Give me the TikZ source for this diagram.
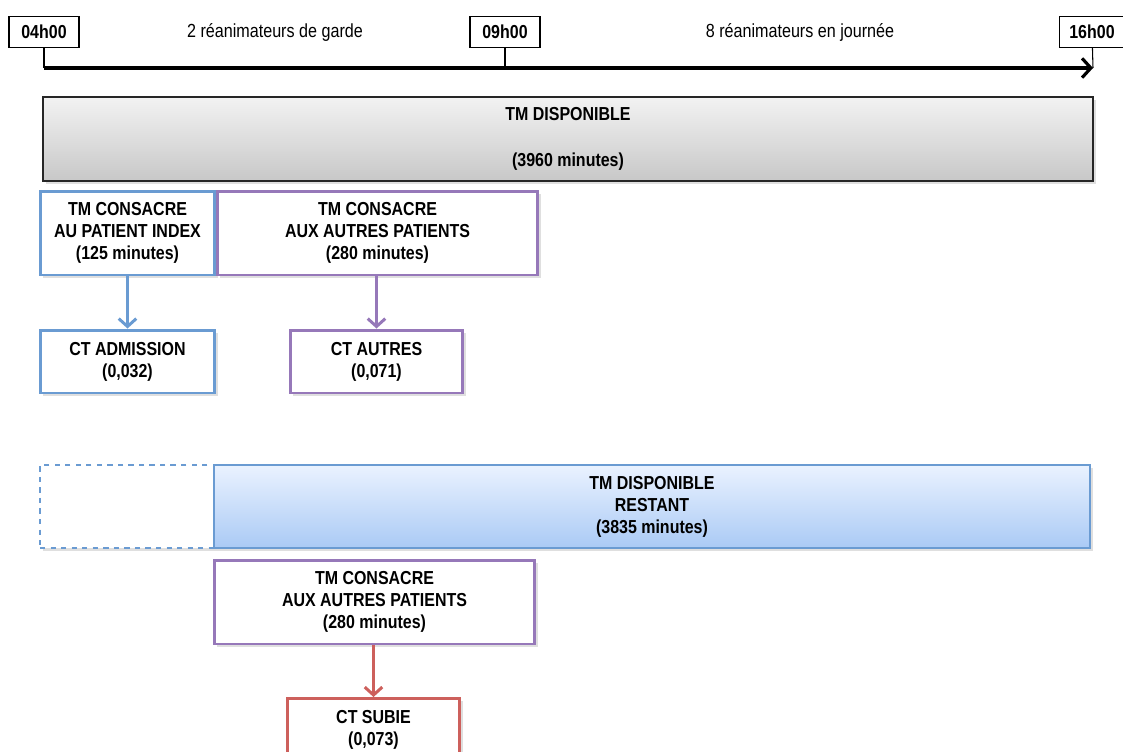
\documentclass[tikz,border=0pt]{standalone}
\usepackage{fontspec}
\setmainfont{Liberation Sans}[FakeStretch=0.85]
\usetikzlibrary{arrows.meta}
\usetikzlibrary{positioning}
\usetikzlibrary{shadows}
\definecolor{cblue}{RGB}{106,155,210}
\definecolor{cpurple}{RGB}{150,120,185}
\definecolor{cred}{RGB}{205,96,92}
\definecolor{cgraytop}{RGB}{242,242,242}
\definecolor{cgraybot}{RGB}{200,200,200}
\definecolor{cbluetop}{RGB}{234,242,255}
\definecolor{cbluebot}{RGB}{170,202,245}

\begin{document}
\begin{tikzpicture}[x=0.02cm, y=-0.02cm,
  hour/.style={draw, line width=0.8pt, fill=white, font=\fontsize{10.7}{12.5}\selectfont\bfseries,
    minimum width=1.4cm, minimum height=0.62cm, inner sep=0pt},
  span/.style={font=\fontsize{10.8}{12.5}\selectfont},
  box/.style={draw, line width=1.7pt, fill=white, align=center, inner sep=0pt,
    font=\fontsize{10.7}{12.5}\selectfont\bfseries,
    drop shadow={shadow xshift=1.5pt, shadow yshift=-1.5pt, opacity=0.25}},
  link/.style={line width=1.7pt, -{Straight Barb[length=4.5pt,width=10pt,line width=1.7pt]}}]
\useasboundingbox (0,0) rectangle (1123,751);

% time line
\node[hour] (t04) at (44,32) {04h00};
\node[hour] (t09) at (505,32) {09h00};
\node[hour, minimum width=1.3cm] (t16) at (1092,32) {16h00};
\node[span] (garde) at (275,32) {2 réanimateurs de garde};
\node[span] (jour) at (800,32) {8 réanimateurs en journée};

\coordinate (a04) at (44,68);
\coordinate (a09) at (505,68);
\coordinate (a16) at (1093,68);
\draw[line width=0.6pt] (t04) -- (a04);
\draw[line width=0.6pt] (t09) -- (a09);
\draw[line width=0.6pt] (t16) -- (a16);
\draw[line width=1.8pt, -{Straight Barb[length=5pt,width=11pt,line width=1.8pt]}] (a04) -- (a16);

% available time
\node[box, draw=black!85, line width=1.1pt, top color=cgraytop, bottom color=cgraybot,
  minimum width=21cm, minimum height=1.68cm] (dispo) at (568,139)
  {TM DISPONIBLE\\[14pt](3960 minutes)};

% first split
\node[box, draw=cblue, minimum width=3.5cm, minimum height=1.68cm] (index) at (127.5,233)
  {TM CONSACRE\\AU PATIENT INDEX\\(125 minutes)};
\node[box, draw=cpurple, minimum width=6.42cm, minimum height=1.68cm] (autres) at (377.5,233)
  {TM CONSACRE\\AUX AUTRES PATIENTS\\(280 minutes)};
\node[box, draw=cblue, minimum width=3.5cm, minimum height=1.26cm] (ctadm) at (127.5,361.5)
  {CT ADMISSION\\(0,032)};
\node[box, draw=cpurple, minimum width=3.46cm, minimum height=1.26cm] (ctautres) at (376.5,361.5)
  {CT AUTRES\\(0,071)};
\draw[link, cblue] (index.south -| ctadm.north) -- (ctadm.north);
\draw[link, cpurple] (autres.south -| ctautres.north) -- (ctautres.north);

% remaining time
\node[box, draw=cblue, dashed, line width=1.1pt, minimum width=3.48cm, minimum height=1.66cm] (vide) at (127,506.5) {};
\node[box, draw=cblue, line width=1.3pt, top color=cbluetop, bottom color=cbluebot,
  minimum width=17.52cm, minimum height=1.66cm] (restant) at (652,506.5)
  {TM DISPONIBLE\\RESTANT\\(3835 minutes)};

% second split
\node[box, draw=cpurple, minimum width=6.42cm, minimum height=1.68cm] (autres2) at (374.5,602)
  {TM CONSACRE\\AUX AUTRES PATIENTS\\(280 minutes)};
\node[box, draw=cred, minimum width=3.46cm, minimum height=1.26cm, anchor=north] (ctsubie) at (373.5,697)
  {CT SUBIE\\(0,073)};
\draw[link, cred] (autres2.south -| ctsubie.north) -- (ctsubie.north);
\end{tikzpicture}
\end{document}
